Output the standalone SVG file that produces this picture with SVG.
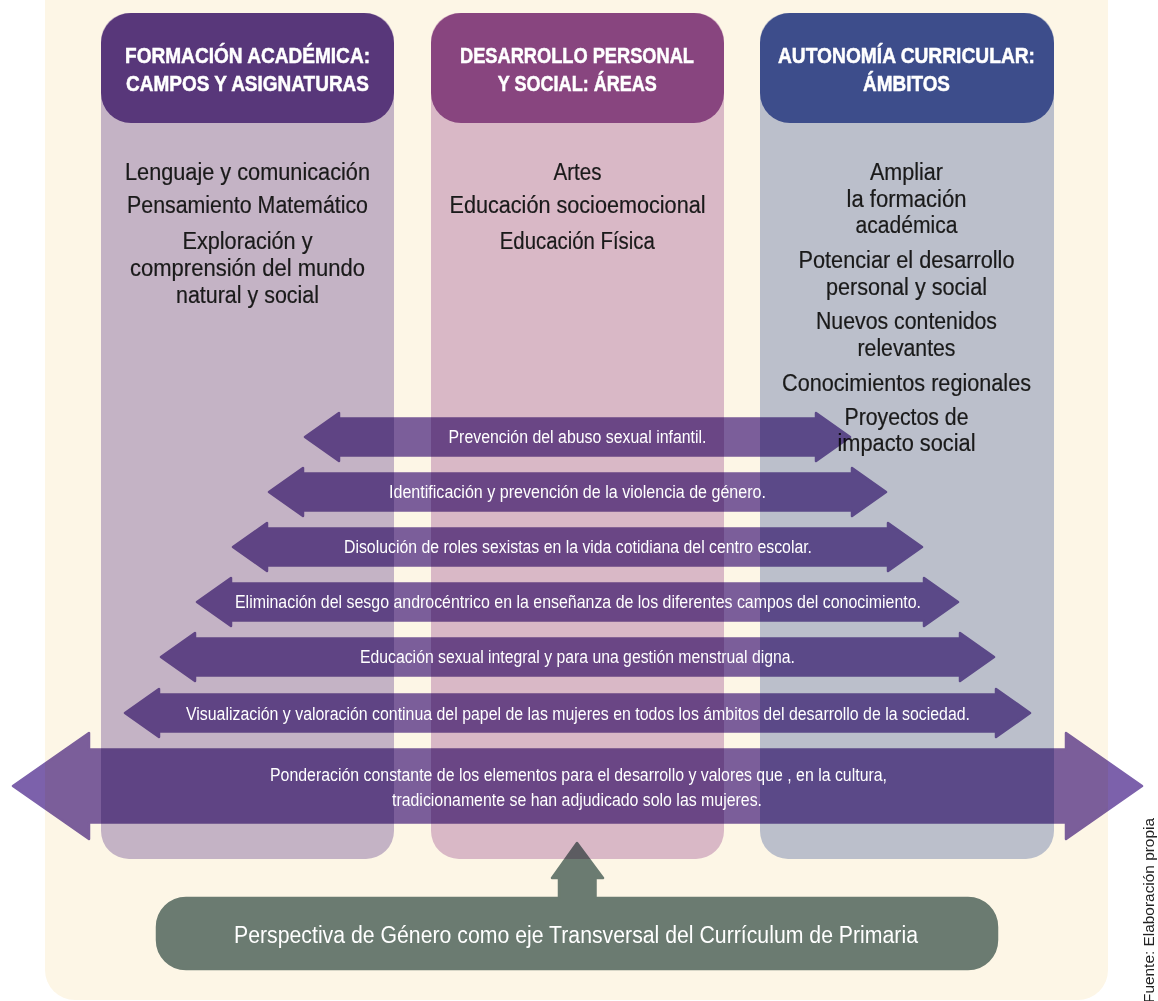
<svg xmlns="http://www.w3.org/2000/svg" width="1158" height="1001" viewBox="0 0 1158 1001">
<defs>
<style>
text{font-family:"Liberation Sans",Arial,sans-serif;}
.hd{font-weight:bold;font-size:22px;fill:#ffffff;stroke:#ffffff;stroke-width:0.5;text-anchor:middle;}
.bd{font-size:23px;fill:#1a1a1a;stroke:#1a1a1a;stroke-width:0.2;text-anchor:middle;}
.lb{font-size:17.5px;fill:#ffffff;text-anchor:middle;}
.arr{fill:#7C61AB;stroke:#7C61AB;stroke-width:2.5;stroke-linejoin:round;mix-blend-mode:multiply;}
.grn{fill:#6C807D;stroke:#6C807D;stroke-width:2.5;stroke-linejoin:round;mix-blend-mode:multiply;}
</style>
</defs>
<rect x="0" y="0" width="1158" height="1001" fill="#ffffff"/>
<rect id="panel" x="45" y="-40" width="1063" height="1040" rx="30" fill="#FDF6E6"/>

<g id="col1">
<rect x="101" y="13" width="293" height="846" rx="28" fill="#C4B3C5"/>
<rect x="101" y="13" width="293" height="110" rx="30" fill="#58377A"/>
<text class="hd" x="247.5" y="63" textLength="245" lengthAdjust="spacingAndGlyphs">FORMACIÓN ACADÉMICA:</text>
<text class="hd" x="247.5" y="91" textLength="243" lengthAdjust="spacingAndGlyphs">CAMPOS Y ASIGNATURAS</text>
<text class="bd" x="247.5" y="180" textLength="245" lengthAdjust="spacingAndGlyphs">Lenguaje y comunicación</text>
<text class="bd" x="247.5" y="213" textLength="241" lengthAdjust="spacingAndGlyphs">Pensamiento Matemático</text>
<text class="bd" x="247.5" y="249" textLength="130" lengthAdjust="spacingAndGlyphs">Exploración y</text>
<text class="bd" x="247.5" y="276" textLength="235" lengthAdjust="spacingAndGlyphs">comprensión del mundo</text>
<text class="bd" x="247.5" y="303" textLength="143" lengthAdjust="spacingAndGlyphs">natural y social</text>
</g>

<g id="col2">
<rect x="431" y="13" width="293" height="846" rx="28" fill="#D9B8C6"/>
<rect x="431" y="13" width="293" height="110" rx="30" fill="#88457F"/>
<text class="hd" x="577" y="63" textLength="234" lengthAdjust="spacingAndGlyphs">DESARROLLO PERSONAL</text>
<text class="hd" x="577.3" y="91" textLength="159" lengthAdjust="spacingAndGlyphs">Y SOCIAL: ÁREAS</text>
<text class="bd" x="577.5" y="180" textLength="48" lengthAdjust="spacingAndGlyphs">Artes</text>
<text class="bd" x="577.5" y="213" textLength="256" lengthAdjust="spacingAndGlyphs">Educación socioemocional</text>
<text class="bd" x="577.3" y="249" textLength="155" lengthAdjust="spacingAndGlyphs">Educación Física</text>
</g>

<g id="col3">
<rect x="760" y="13" width="294" height="846" rx="28" fill="#BBBFCB"/>
<rect x="760" y="13" width="294" height="110" rx="30" fill="#3D4D8B"/>
<text class="hd" x="906.5" y="63" textLength="257" lengthAdjust="spacingAndGlyphs">AUTONOMÍA CURRICULAR:</text>
<text class="hd" x="906.5" y="91" textLength="87" lengthAdjust="spacingAndGlyphs">ÁMBITOS</text>
<text class="bd" x="906.5" y="180" textLength="73" lengthAdjust="spacingAndGlyphs">Ampliar</text>
<text class="bd" x="906.5" y="207" textLength="120" lengthAdjust="spacingAndGlyphs">la formación</text>
<text class="bd" x="906.5" y="233" textLength="102" lengthAdjust="spacingAndGlyphs">académica</text>
<text class="bd" x="906.5" y="268" textLength="216" lengthAdjust="spacingAndGlyphs">Potenciar el desarrollo</text>
<text class="bd" x="906.5" y="295" textLength="161" lengthAdjust="spacingAndGlyphs">personal y social</text>
<text class="bd" x="906.5" y="329" textLength="181" lengthAdjust="spacingAndGlyphs">Nuevos contenidos</text>
<text class="bd" x="906.5" y="356" textLength="98" lengthAdjust="spacingAndGlyphs">relevantes</text>
<text class="bd" x="906.5" y="391" textLength="249" lengthAdjust="spacingAndGlyphs">Conocimientos regionales</text>
<text class="bd" x="906.5" y="425" textLength="124" lengthAdjust="spacingAndGlyphs">Proyectos de</text>
<text class="bd" x="906.5" y="451" textLength="138" lengthAdjust="spacingAndGlyphs">impacto social</text>
</g>

<g id="connectors">
<path class="arr" d="M305,437 L339,413 L339,418.5 L816,418.5 L816,413 L850,437 L816,461 L816,455.5 L339,455.5 L339,461 Z"/>
<path class="arr" d="M269,492 L303,468 L303,473.5 L852,473.5 L852,468 L886,492 L852,516 L852,510.5 L303,510.5 L303,516 Z"/>
<path class="arr" d="M233,547 L267,523 L267,528.5 L888,528.5 L888,523 L922,547 L888,571 L888,565.5 L267,565.5 L267,571 Z"/>
<path class="arr" d="M197,602 L231,578 L231,583.5 L924,583.5 L924,578 L958,602 L924,626 L924,620.5 L231,620.5 L231,626 Z"/>
<path class="arr" d="M161,657 L195,633 L195,638.5 L960,638.5 L960,633 L994,657 L960,681 L960,675.5 L195,675.5 L195,681 Z"/>
<path class="arr" d="M125,713 L159,689 L159,694.5 L996,694.5 L996,689 L1030,713 L996,737 L996,731.5 L159,731.5 L159,737 Z"/>
<path class="arr" d="M13,786 L89,733 L89,749.5 L1066,749.5 L1066,733 L1142,786 L1066,839 L1066,822.5 L89,822.5 L89,839 Z"/>
</g>

<g id="arrow-labels">
<text class="lb" x="577.5" y="443" textLength="258" lengthAdjust="spacingAndGlyphs">Prevención del abuso sexual infantil.</text>
<text class="lb" x="577.5" y="498" textLength="377" lengthAdjust="spacingAndGlyphs">Identificación y prevención de la violencia de género.</text>
<text class="lb" x="578" y="553" textLength="468" lengthAdjust="spacingAndGlyphs">Disolución de roles sexistas en la vida cotidiana del centro escolar.</text>
<text class="lb" x="578" y="608" textLength="686" lengthAdjust="spacingAndGlyphs">Eliminación del sesgo androcéntrico en la enseñanza de los diferentes campos del conocimiento.</text>
<text class="lb" x="577.5" y="663" textLength="435" lengthAdjust="spacingAndGlyphs">Educación sexual integral y para una gestión menstrual digna.</text>
<text class="lb" x="578" y="719.5" textLength="784" lengthAdjust="spacingAndGlyphs">Visualización y valoración continua del papel de las mujeres en todos los ámbitos del desarrollo de la sociedad.</text>
<text class="lb" x="578.5" y="781" textLength="617" lengthAdjust="spacingAndGlyphs">Ponderación constante de los elementos para el desarrollo y valores que , en la cultura,</text>
<text class="lb" x="577" y="806" textLength="370" lengthAdjust="spacingAndGlyphs">tradicionamente se han adjudicado solo las mujeres.</text>
</g>

<g id="base">
<path class="grn" d="M577,843 L603,878 L595.5,878 L595.5,898 L968,898 A29,29 0 0 1 997,927 L997,940 A29,29 0 0 1 968,969 L186,969 A29,29 0 0 1 157,940 L157,927 A29,29 0 0 1 186,898 L559,898 L559,878 L552,878 Z"/>
<text x="576" y="943" font-size="23" fill="#ffffff" text-anchor="middle" textLength="684" lengthAdjust="spacingAndGlyphs">Perspectiva de Género como eje Transversal del Currículum de Primaria</text>
</g>

<text x="0" y="0" font-size="14" fill="#222222" transform="translate(1154,1003) rotate(-90)" textLength="185" lengthAdjust="spacingAndGlyphs">Fuente: Elaboración propia</text>
</svg>
